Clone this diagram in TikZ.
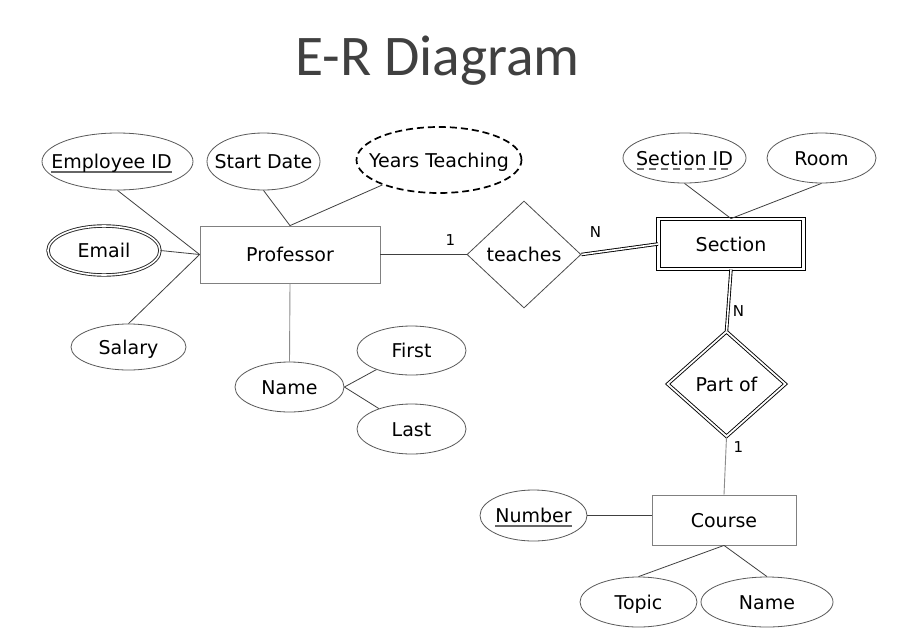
\documentclass[tikz,border=0pt]{standalone}
\usepackage{fontspec}
\setmainfont{DejaVu Sans}
\newfontfamily\titlefont{Carlito}
\usetikzlibrary{shapes.geometric}
\newsavebox\ulbox
\newcommand\zw[1]{\makebox[0pt]{\smash{\raisebox{-7pt}{#1}}}}
\newcommand\ulsolid[1]{\sbox\ulbox{#1}\rlap{\color{black!60}\rule[-4.5pt]{\wd\ulbox}{2pt}}\usebox\ulbox}
\newcommand\uldashed[1]{\sbox\ulbox{#1}\rlap{\color{black!55}\raisebox{-4.5pt}{\hbox to \wd\ulbox{\xleaders\hbox{\rule{7pt}{1.8pt}\hspace{4pt}}\hfill}}}\usebox\ulbox}
\begin{document}
\begin{tikzpicture}[x=1pt,y=-1pt,
  every node/.style={font=\fontsize{19}{22}\selectfont, text=black},
  attr/.style={ellipse, draw=black!65, line width=0.8pt, inner sep=0pt, minimum width=#1},
  ent/.style={rectangle, draw=black!50, line width=0.8pt, inner sep=0pt},
  rel/.style={diamond, draw=black!70, line width=0.8pt, inner sep=0pt},
  conn/.style={draw=black!75, line width=0.8pt},
  lconn/.style={draw=black!45, line width=0.9pt},
  dbl/.style={draw=black, double, double distance=1.6pt, line width=0.9pt},
  card/.style={font=\fontsize{15}{17}\selectfont, inner sep=0pt}]
\useasboundingbox[fill=white] (0,0) rectangle (920,640);

\node[font=\titlefont\fontsize{57.5}{60}\selectfont, text=black!75, anchor=base] (title) at (437.5,75) {E-R Diagram};

% entities and relationships
\node[ent, minimum width=180, minimum height=57] (prof) at (290,254.5) {\zw{Professor}};
\node[rel, minimum width=114, minimum height=107] (teaches) at (524,254.5) {\zw{teaches}};
\node[ent, draw=black, double, double distance=2.4pt, line width=0.9pt, minimum width=145, minimum height=50] (section) at (731,244) {\zw{Section}};
\node[rel, draw=black, double, double distance=1.8pt, line width=0.9pt, minimum width=118, minimum height=105] (partof) at (726.5,384) {\zw{Part of}};
\node[ent, minimum width=144, minimum height=50] (course) at (724,520) {\zw{Course}};

% attributes
\node[attr=151, minimum height=57] (empid) at (117.5,161.5) {\zw{\ulsolid{Employee ID}\hspace{12pt}}};
\node[attr=113, minimum height=57] (startd) at (263.5,161.5) {\zw{Start Date}};
\node[attr=165, minimum height=66, draw=black, dashed, dash pattern=on 7pt off 4pt, line width=1.7pt] (years) at (439,160) {\zw{Years Teaching}};
\node[attr=112, minimum height=49, draw=black!85, double, double distance=1.6pt, line width=0.9pt] (email) at (104,250.5) {\zw{Email}};
\node[attr=115, minimum height=46] (salary) at (128.5,347) {\zw{Salary}};
\node[attr=109, minimum height=50] (name) at (289.5,387) {\zw{Name}};
\node[attr=109, minimum height=49] (first) at (411.5,350.5) {\zw{First}};
\node[attr=109, minimum height=50] (last) at (411.5,429) {\zw{Last}};
\node[attr=123, minimum height=50] (secid) at (684.5,158) {\zw{\uldashed{Section ID}}};
\node[attr=109, minimum height=50] (room) at (821.5,158) {\zw{Room}};
\node[attr=107, minimum height=51] (number) at (533.5,515.5) {\zw{\ulsolid{Number}}};
\node[attr=117, minimum height=50] (topic) at (638.5,602) {\zw{Topic}};
\node[attr=132, minimum height=50] (cname) at (767,602) {\zw{Name}};

% cardinalities
\node[card] (c1) at (450.5,240.5) {1};
\node[card] (c2) at (595.5,232.5) {N};
\node[card] (c3) at (738.5,311.5) {N};
\node[card] (c4) at (738.5,447.5) {1};

% connectors
\draw[conn] (empid.south) -- (prof.west);
\draw[conn] (email.east) -- (prof.west);
\draw[conn] (salary.north) -- (prof.west);
\draw[conn] (startd.south) -- (prof.north);
\draw[conn] (years) -- (prof.north);
\draw[lconn] (prof.south) -- (name.north);
\draw[conn] (name.east) -- (first);
\draw[conn] (name.east) -- (last);
\draw[conn] (prof.east) -- (teaches.west);
\draw[dbl] (teaches.east) -- (section.west);
\draw[conn] (secid.south) -- (section.north);
\draw[conn] (room.south) -- (section.north);
\draw[dbl] (section.south) -- (partof.north);
\draw[lconn] (partof.south) -- (course.north);
\draw[conn] (number.east) -- (number.east -| course.west);
\draw[conn] (course.south) -- (topic.north);
\draw[conn] (course.south) -- (cname.north);
\end{tikzpicture}
\end{document}
